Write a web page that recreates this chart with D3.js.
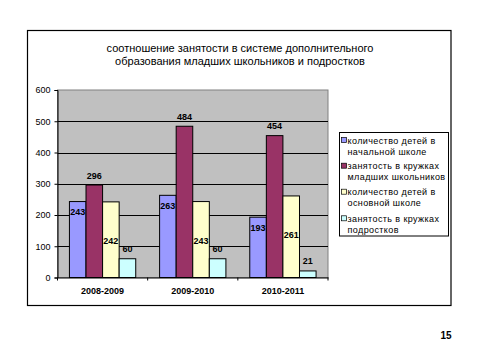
<!DOCTYPE html>
<html><head><meta charset="utf-8">
<script src="https://cdn.jsdelivr.net/npm/d3@7"></script>
<style>body{margin:0;background:#fff}svg{display:block;font-family:Arial,"Liberation Sans",sans-serif}</style>
</head><body><svg id="c" width="481" height="361"></svg>
<script>
const categories = ["2008-2009", "2009-2010", "2010-2011"];
const seriesNames = [
  ["количество детей в", "начальной школе"],
  ["занятость в кружках", "младших школьников"],
  ["количество детей в", "основной школе"],
  ["занятость в кружках", "подростков"]
];
const primaryKids = [243, 263, 193];
const primaryClubs = [296, 484, 454];
const basicKids = [242, 243, 261];
const teenClubs = [60, 60, 21];
const yTicks = [0, 100, 200, 300, 400, 500, 600];
const titleLines = ["соотношение занятости в системе дополнительного", "образования младших школьников и подростков"];
const pageNumber = "15";

const series = [primaryKids, primaryClubs, basicKids, teenClubs];
const colors = ["#9999FF", "#993366", "#FFFFCC", "#CCFFFF"];
const labelOffsets = [10, -10, 39, -10];

const svg = d3.select("#c");
svg.append("rect").attr("x", 27.5).attr("y", 30.5).attr("width", 423.5).attr("height", 275)
  .attr("fill", "#fff").attr("stroke", "#000").attr("stroke-width", 1.2);

svg.append("g").selectAll("text").data(titleLines).join("text")
  .attr("x", 240).attr("y", (d, i) => 52 + i * 13)
  .attr("text-anchor", "middle").attr("font-size", 11).attr("fill", "#000").text(d => d);

const L = 57.5, R = 328, T = 90, B = 277.5;
const x = d3.scaleBand().domain(categories).range([L, R]).paddingInner(0).paddingOuter(0);
const xs = d3.scaleBand().domain(d3.range(4)).range([0, x.bandwidth()]).paddingInner(0).paddingOuter(0.72);
const y = d3.scaleLinear().domain([0, 600]).range([B, T]);

svg.append("rect").attr("x", L).attr("y", T).attr("width", R - L).attr("height", B - T)
  .attr("fill", "#C0C0C0").attr("stroke", "#808080");

svg.append("g").selectAll("line").data(yTicks.filter(d => d > 0 && d < 600)).join("line")
  .attr("x1", L).attr("x2", R).attr("y1", d => Math.round(y(d)) + 0.5).attr("y2", d => Math.round(y(d)) + 0.5)
  .attr("stroke", "#000");

const bars = svg.append("g");
series.forEach((vals, si) => {
  bars.selectAll(null).data(vals).join("rect")
    .attr("x", (d, i) => x(categories[i]) + xs(si))
    .attr("y", d => y(d))
    .attr("width", xs.bandwidth())
    .attr("height", d => B - y(d))
    .attr("fill", colors[si]).attr("stroke", "#000").attr("stroke-width", 1);
  bars.selectAll(null).data(vals).join("text")
    .attr("x", (d, i) => x(categories[i]) + xs(si) + xs.bandwidth() / 2)
    .attr("y", d => y(d) + labelOffsets[si] + 3.5)
    .attr("text-anchor", "middle").attr("font-size", 9).attr("font-weight", "bold").attr("fill", "#000")
    .text(d => d);
});

const yAxis = svg.append("g").attr("transform", `translate(${L},0)`)
  .call(d3.axisLeft(y).tickValues(yTicks).tickSize(3).tickPadding(4));
yAxis.select(".domain").attr("stroke", "#000");
yAxis.selectAll("text").attr("font-size", 9).attr("font-family", "Arial").attr("fill", "#000");
const xAxis = svg.append("g").attr("transform", `translate(0,${B})`)
  .call(d3.axisBottom(x).tickSize(0).tickPadding(10));
xAxis.select(".domain").attr("stroke", "#000");
xAxis.selectAll("text").attr("font-size", 9).attr("font-weight", "bold").attr("font-family", "Arial").attr("fill", "#000");
svg.append("g").selectAll("line").data([L, ...categories.map(c => x(c) + x.bandwidth())]).join("line")
  .attr("x1", d => d).attr("x2", d => d).attr("y1", B).attr("y2", B + 3).attr("stroke", "#000");

const lg = svg.append("g");
lg.append("rect").attr("x", 339.5).attr("y", 132.5).attr("width", 109).attr("height", 103.5)
  .attr("fill", "#fff").attr("stroke", "#000");
const itemY = [140, 165.7, 191.7, 218.3];
seriesNames.forEach((lines, i) => {
  lg.append("rect").attr("x", 341.5).attr("y", itemY[i] - 2.5).attr("width", 5).attr("height", 5)
    .attr("fill", colors[i]).attr("stroke", "#000").attr("stroke-width", 0.7);
  lines.forEach((t, j) => {
    lg.append("text").attr("x", 347.5).attr("y", itemY[i] + j * 11 + 3.5)
      .attr("font-size", 9).attr("letter-spacing", 0.4).attr("fill", "#000").text(t);
  });
});

svg.append("text").attr("x", 446).attr("y", 339).attr("text-anchor", "middle")
  .attr("font-size", 10).attr("font-weight", "bold").text(pageNumber);
</script></body></html>
